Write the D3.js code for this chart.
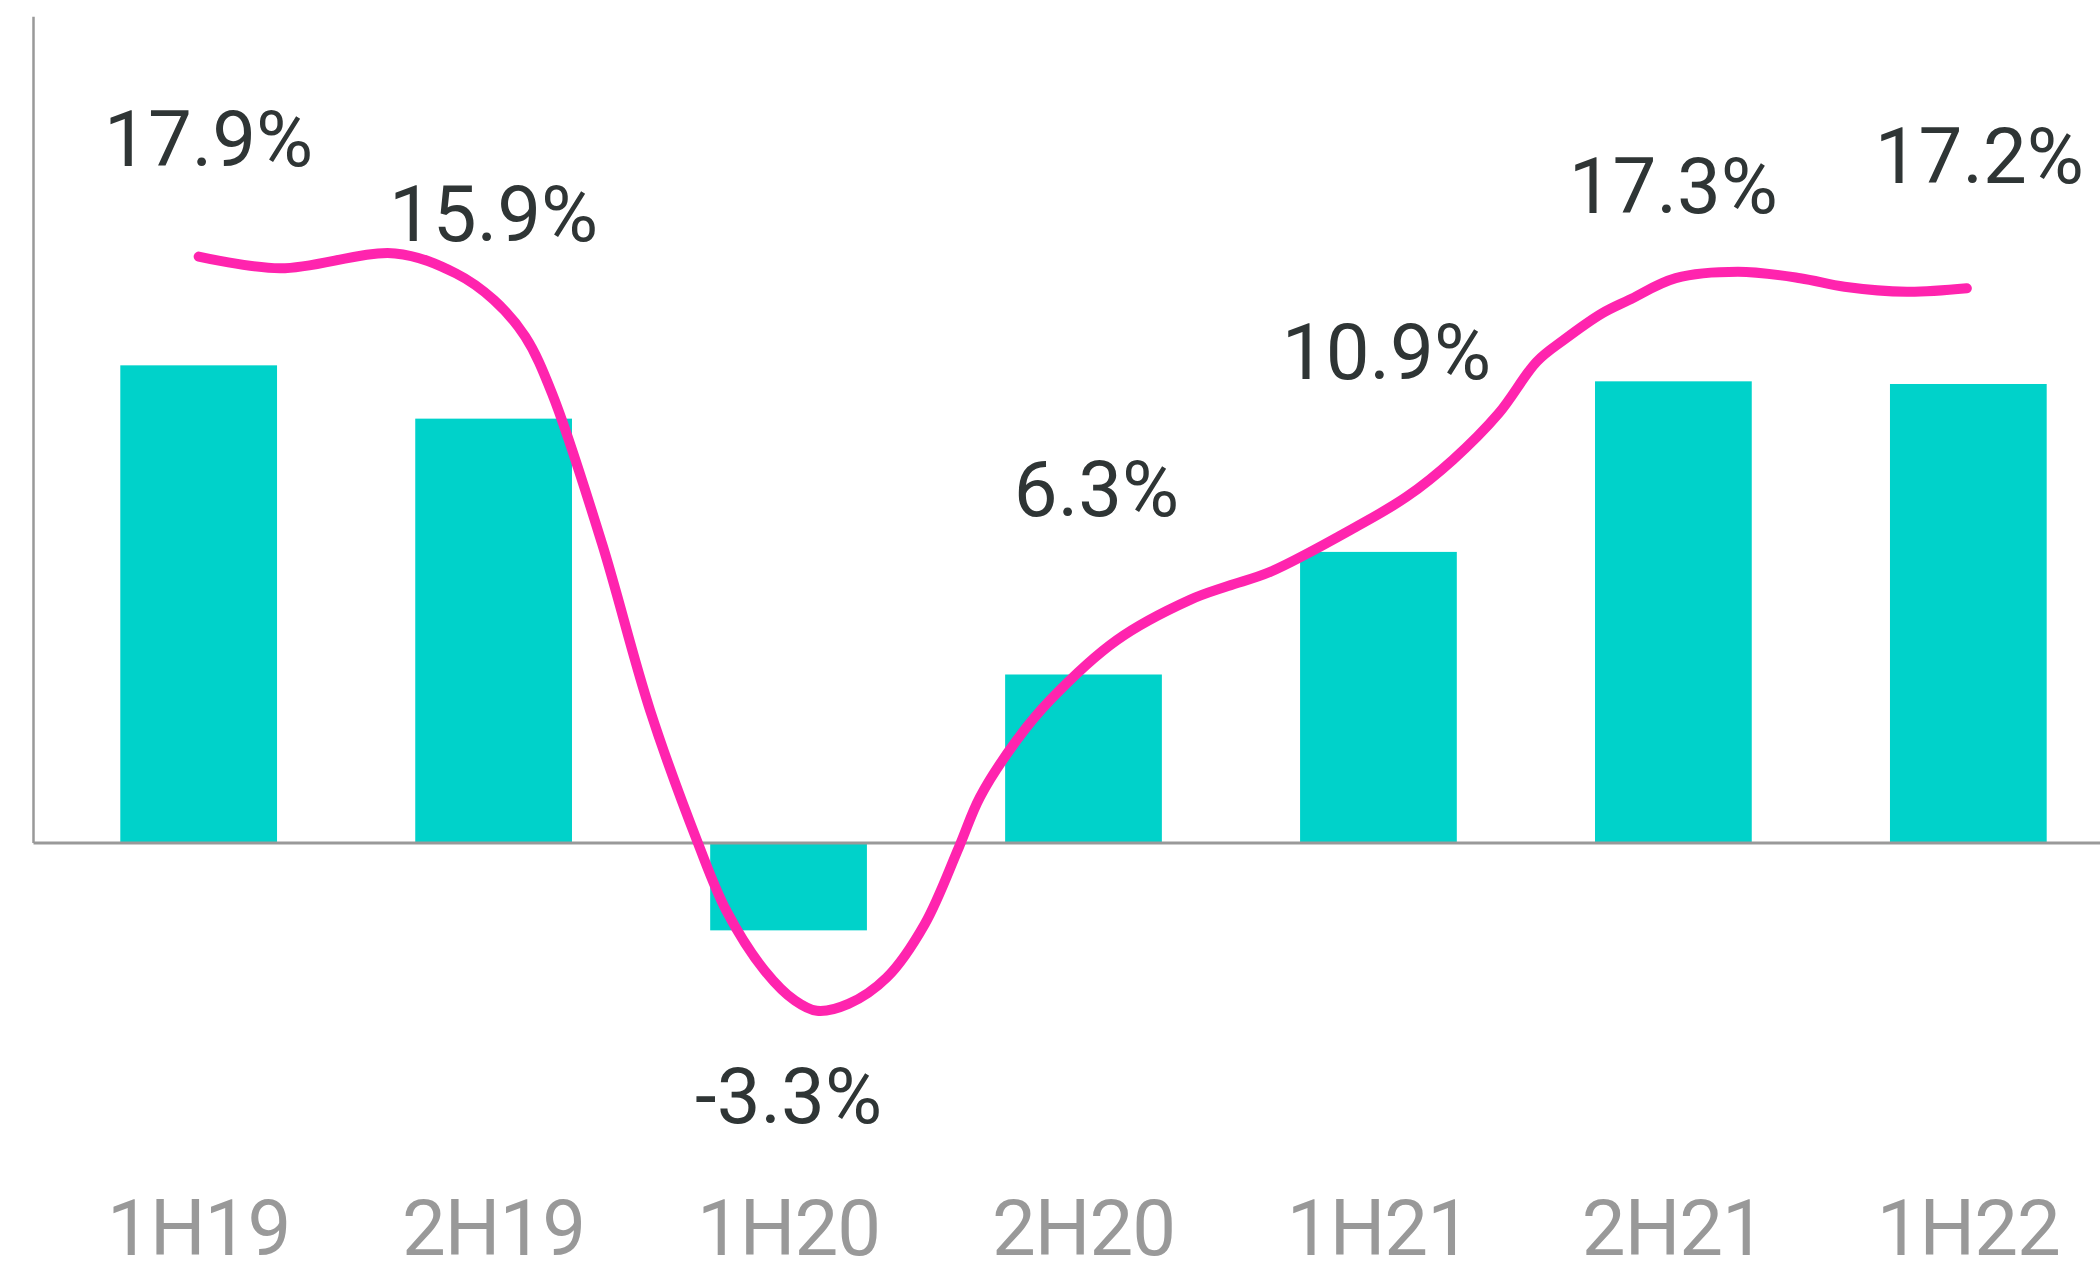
<!DOCTYPE html>
<html>
<head>
<meta charset="utf-8">
<script src="https://cdn.jsdelivr.net/npm/d3@7"></script>
<style>
  html, body { margin: 0; padding: 0; background: #ffffff; }
  svg { display: block; }
  text { font-family: Roboto, "Noto Sans", sans-serif; }
</style>
</head>
<body>
<svg id="chart" width="2100" height="1276"></svg>
<script>
// Half-year periods and growth rates (%)
const categories = ["1H19", "2H19", "1H20", "2H20", "1H21", "2H21", "1H22"];
const growth = [17.9, 15.9, -3.3, 6.3, 10.9, 17.3, 17.2];
const valueLabels = ["17.9%", "15.9%", "-3.3%", "6.3%", "10.9%", "17.3%", "17.2%"];

// Trend curve: position along the period axis (0 = 1H19 ... 6 = 1H22) and level in %
const trendPos = [0.000, 0.276, 0.666, 0.872, 1.001, 1.107, 1.198, 1.367, 1.530, 1.693,
                  1.789, 1.919, 2.022, 2.096, 2.203, 2.333, 2.462, 2.578, 2.649, 2.774,
                  2.887, 3.113, 3.361, 3.490, 3.633, 3.921, 4.096, 4.252, 4.408, 4.537,
                  4.628, 4.758, 4.849, 5.008, 5.219, 5.430, 5.580, 5.792, 5.995];
const trendVal = [21.98, 21.54, 22.10, 21.35, 20.35, 18.98, 16.85, 11.23, 4.97, -0.03,
                  -2.56, -4.81, -5.94, -6.32, -6.06, -5.07, -3.06, -0.17, 1.70, 3.84,
                  5.34, 7.59, 9.10, 9.62, 10.15, 11.82, 12.97, 14.35, 16.10, 18.04,
                  18.85, 19.85, 20.35, 21.17, 21.41, 21.17, 20.85, 20.66, 20.79];

// Label placement: distance (px) from the bar end, and horizontal nudge
const labelGap = [199, 178, 193, 158, 173, 168, 201];
const labelNudge = [10, 0, 0, 13, 8, 0, 11];

const W = 2100, H = 1276;
const axisX = 33;
const svg = d3.select("#chart");
svg.append("rect").attr("width", W).attr("height", H).attr("fill", "#ffffff");

const x = d3.scaleBand()
  .domain(categories)
  .range([axisX, 2134])
  .paddingInner(0.4686)
  .paddingOuter(0.296);

const y = d3.scaleLinear().domain([0, 31]).range([842.4, 16.2]);

const center = c => x(c) + x.bandwidth() / 2;
const xPos = d3.scaleLinear()
  .domain([0, categories.length - 1])
  .range([center(categories[0]), center(categories[categories.length - 1])]);

// Bars
svg.append("g").selectAll("rect")
  .data(growth)
  .join("rect")
  .attr("x", (d, i) => x(categories[i]))
  .attr("width", x.bandwidth())
  .attr("y", d => y(Math.max(0, d)))
  .attr("height", d => Math.abs(y(d) - y(0)))
  .attr("fill", "#00D2CA");

// Vertical axis line (no ticks)
const yAxis = svg.append("g")
  .attr("transform", `translate(${axisX},0)`)
  .call(d3.axisLeft(y).tickValues([]).tickSizeOuter(0));
yAxis.select(".domain").attr("stroke", "#999999").attr("stroke-width", 2.5);

// Zero baseline
const xLine = d3.scaleLinear().domain([0, 1]).range([axisX, 2134]);
const xAxis = svg.append("g")
  .attr("transform", `translate(0,${y(0)})`)
  .call(d3.axisBottom(xLine).tickValues([]).tickSizeOuter(0));
xAxis.select(".domain").attr("stroke", "#999999").attr("stroke-width", 3);

// Trend curve
const trend = trendPos.map((p, i) => [p, trendVal[i]]);
const line = d3.line()
  .x(d => xPos(d[0]))
  .y(d => y(d[1]))
  .curve(d3.curveCatmullRom.alpha(0.5));
svg.append("path")
  .attr("d", line(trend))
  .attr("fill", "none")
  .attr("stroke", "#FF24AE")
  .attr("stroke-width", 10)
  .attr("stroke-linecap", "round")
  .attr("stroke-linejoin", "round");

// Value labels
svg.append("g").selectAll("text")
  .data(growth)
  .join("text")
  .attr("x", (d, i) => center(categories[i]) + labelNudge[i])
  .attr("y", (d, i) => d >= 0 ? y(d) - labelGap[i] : y(d) + labelGap[i])
  .attr("text-anchor", "middle")
  .attr("font-size", 78)
  .attr("fill", "#2F3535")
  .text((d, i) => valueLabels[i]);

// Period labels
svg.append("g").selectAll("text")
  .data(categories)
  .join("text")
  .attr("x", d => center(d))
  .attr("y", 1255)
  .attr("text-anchor", "middle")
  .attr("font-size", 78)
  .attr("letter-spacing", -1)
  .attr("fill", "#999999")
  .text(d => d);
</script>
</body>
</html>
